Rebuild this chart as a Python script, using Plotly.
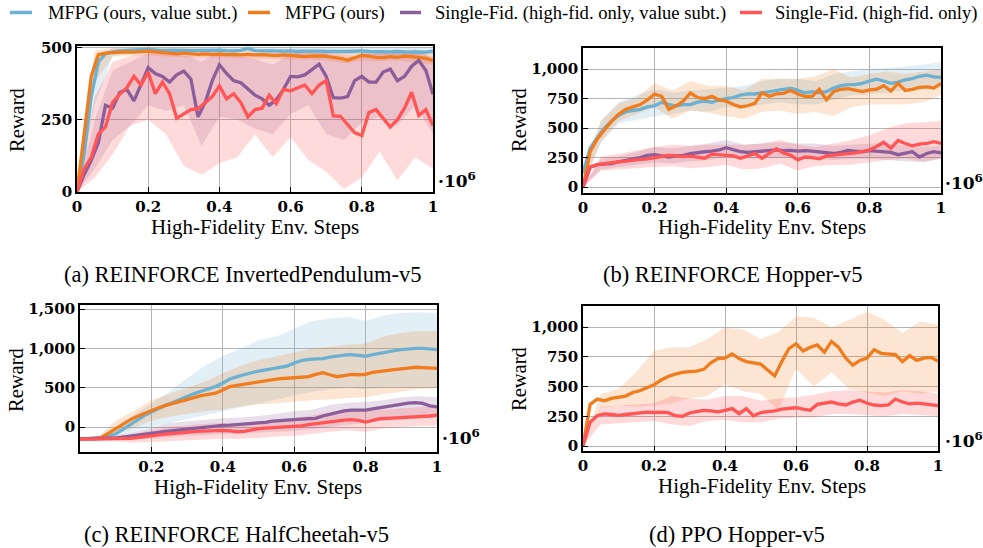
import plotly.graph_objects as go

# ---------------- data ----------------
STEPS = [0, 0.02, 0.04, 0.06, 0.08, 0.10, 0.12, 0.14, 0.16, 0.18, 0.20, 0.22, 0.24, 0.26, 0.28, 0.30,
         0.32, 0.34, 0.36, 0.38, 0.40, 0.42, 0.44, 0.46, 0.48, 0.50, 0.52, 0.54, 0.56, 0.58, 0.60,
         0.62, 0.64, 0.66, 0.68, 0.70, 0.72, 0.74, 0.76, 0.78, 0.80, 0.82, 0.84, 0.86, 0.88, 0.90,
         0.92, 0.94, 0.96, 0.98, 1.0]
BAND_STEPS = [0, 0.05, 0.10, 0.15, 0.20, 0.25, 0.30, 0.35, 0.40, 0.45, 0.50, 0.55, 0.60, 0.65,
              0.70, 0.75, 0.80, 0.85, 0.90, 0.95, 1.0]

SERIES = ["MFPG (ours, value subt.)", "MFPG (ours)",
          "Single-Fid. (high-fid. only, value subt.)", "Single-Fid. (high-fid. only)"]

# (a) REINFORCE InvertedPendulum-v5
a_mfpg_vs = [0, 130, 330, 450, 478, 485, 488, 490, 490, 492, 493, 490, 489, 490, 491, 490, 489, 490, 489, 490,
             491, 489, 488, 490, 497, 489, 488, 487, 488, 487, 488, 486, 487, 488, 487, 486, 487, 486, 486, 487,
             488, 486, 485, 486, 485, 486, 484, 484, 485, 484, 487]
a_mfpg = [0, 200, 400, 475, 480, 482, 484, 485, 484, 486, 487, 485, 482, 480, 478, 480, 477, 476, 478, 476,
          477, 475, 476, 474, 476, 474, 475, 473, 472, 474, 472, 469, 468, 470, 471, 469, 466, 462, 456, 464,
          472, 470, 466, 465, 468, 466, 470, 468, 465, 462, 455]
a_sf_vs = [0, 60, 110, 170, 300, 290, 344, 355, 315, 370, 430, 410, 400, 380, 405, 418, 390, 260, 310, 385,
           440, 410, 385, 378, 355, 335, 322, 300, 320, 355, 400, 398, 405, 425, 442, 400, 326, 325, 330, 385,
           400, 380, 380, 415, 425, 385, 400, 435, 455, 420, 338]
a_sf = [0, 80, 120, 200, 225, 310, 338, 361, 400, 370, 415, 340, 380, 340, 255, 270, 285, 288, 310, 330,
        367, 322, 340, 310, 260, 285, 290, 335, 305, 355, 350, 360, 370, 340, 370, 385, 263, 262, 235, 205,
        195, 275, 285, 255, 225, 250, 290, 345, 265, 285, 230]
a_mfpg_vs_lo = [0, 300, 470, 478, 480, 478, 478, 478, 476, 478, 480, 478, 476, 477, 476, 476, 476, 475, 474, 474, 474]
a_mfpg_vs_hi = [30, 470, 498, 500, 500, 500, 500, 500, 500, 500, 500, 500, 500, 500, 500, 500, 500, 500, 500, 500, 500]
a_mfpg_lo = [0, 380, 468, 470, 472, 468, 466, 464, 465, 463, 462, 460, 458, 457, 456, 445, 455, 452, 455, 450, 440]
a_mfpg_hi = [40, 490, 498, 500, 500, 498, 496, 496, 495, 494, 494, 492, 492, 490, 490, 485, 490, 488, 490, 488, 485]
a_sf_vs_lo = [0, 80, 180, 230, 300, 280, 300, 160, 260, 250, 220, 200, 270, 300, 200, 180, 240, 260, 230, 300, 200]
a_sf_vs_hi = [0, 250, 420, 450, 480, 480, 480, 450, 490, 470, 460, 440, 480, 490, 480, 450, 480, 490, 480, 495, 460]
a_sf_lo = [0, 50, 130, 230, 250, 200, 90, 60, 100, 120, 200, 120, 190, 110, 70, 10, 50, 140, 40, 120, 80]
a_sf_hi = [0, 330, 450, 470, 480, 480, 470, 480, 480, 475, 480, 480, 480, 480, 480, 475, 470, 480, 480, 480, 470]

# (b) REINFORCE Hopper-v5
b_mfpg_vs = [120, 330, 420, 500, 560, 610, 640, 650, 660, 680, 690, 720, 700, 690, 700, 700, 720, 730, 720, 740,
             750, 760, 780, 790, 790, 800, 810, 820, 830, 840, 820, 800, 810, 800, 810, 840, 860, 870, 870, 880,
             900, 915, 900, 880, 890, 910, 920, 940, 950, 935, 930]
b_mfpg = [0, 300, 410, 490, 560, 620, 660, 680, 700, 740, 790, 770, 660, 690, 730, 800, 760, 750, 770, 740,
          730, 700, 680, 690, 710, 800, 770, 790, 795, 820, 790, 770, 770, 830, 740, 810, 830, 835, 820, 810,
          825, 830, 860, 815, 880, 820, 830, 845, 850, 840, 880]
b_sf_vs = [0, 170, 190, 195, 200, 215, 230, 240, 250, 270, 275, 265, 255, 265, 270, 285, 295, 300, 305, 315,
           335, 320, 300, 295, 300, 305, 310, 315, 310, 312, 305, 310, 305, 300, 295, 285, 295, 312, 305, 300,
           310, 305, 300, 295, 275, 285, 300, 255, 285, 300, 290]
b_sf = [0, 170, 190, 200, 205, 215, 220, 230, 235, 240, 250, 260, 270, 265, 258, 262, 255, 245, 280, 275,
        270, 265, 245, 265, 285, 245, 285, 325, 290, 270, 230, 255, 250, 240, 265, 270, 275, 285, 290, 300,
        315, 345, 380, 330, 395, 370, 350, 365, 370, 385, 370]
b_mfpg_vs_lo = [50, 380, 540, 570, 600, 620, 650, 640, 680, 680, 700, 720, 700, 700, 740, 780, 790, 800, 820, 850, 840]
b_mfpg_vs_hi = [200, 560, 720, 780, 830, 800, 820, 830, 840, 860, 900, 920, 920, 900, 960, 980, 1000, 1010, 1020, 1040, 1060]
b_mfpg_lo = [0, 380, 560, 620, 680, 580, 650, 630, 600, 580, 640, 650, 620, 640, 600, 680, 700, 700, 700, 720, 780]
b_mfpg_hi = [50, 560, 710, 760, 880, 820, 900, 860, 860, 820, 920, 920, 920, 940, 1000, 930, 960, 980, 960, 980, 1000]
b_sf_vs_lo = [0, 150, 170, 190, 210, 200, 220, 230, 260, 240, 240, 250, 250, 240, 230, 240, 240, 230, 220, 210, 240]
b_sf_vs_hi = [0, 240, 260, 300, 340, 330, 350, 370, 400, 360, 370, 380, 370, 370, 350, 360, 370, 370, 350, 340, 350]
b_sf_lo = [0, 140, 150, 160, 170, 180, 160, 170, 190, 150, 160, 200, 140, 180, 190, 190, 210, 230, 240, 220, 240]
b_sf_hi = [0, 260, 280, 310, 340, 360, 350, 360, 360, 360, 370, 400, 360, 340, 370, 400, 440, 500, 540, 550, 560]

# (c) REINFORCE HalfCheetah-v5
c_mfpg_vs = [-150, -150, -145, -140, -120, -85, -30, 30, 90, 145, 190, 235, 275, 310, 350, 385, 425, 455, 485, 515,
             560, 610, 640, 670, 690, 710, 725, 740, 755, 775, 815, 845, 860, 860, 870, 890, 905, 915, 920, 910,
             900, 920, 940, 955, 970, 985, 995, 1000, 1000, 990, 985]
c_mfpg = [-150, -150, -145, -135, -80, -20, 40, 90, 135, 175, 214, 245, 275, 300, 330, 355, 380, 400, 415, 430,
          470, 515, 530, 545, 560, 576, 590, 605, 615, 620, 628, 635, 640, 670, 690, 665, 640, 655, 670, 665,
          670, 695, 710, 720, 730, 740, 750, 760, 755, 750, 745]
c_sf_vs = [-150, -150, -150, -148, -145, -140, -130, -120, -110, -95, -85, -70, -55, -45, -30, -20, -10, -5, 5, 15,
           20, 25, 30, 35, 40, 45, 60, 75, 85, 90, 95, 100, 105, 110, 140, 165, 185, 205, 215, 210,
           215, 230, 245, 260, 280, 295, 305, 310, 300, 270, 255]
c_sf = [-150, -155, -155, -150, -150, -150, -148, -145, -135, -120, -107, -100, -90, -80, -70, -64, -58, -52, -48, -45,
        -43, -48, -60, -55, -35, -21, -15, -10, -5, 0, 5, 15, 30, 43, 55, 62, 75, 88, 94, 85,
        62, 85, 105, 110, 115, 118, 120, 122, 130, 140, 150]
c_mfpg_vs_lo = [-170, -160, -130, -50, 0, 50, 100, 150, 200, 250, 300, 350, 400, 450, 480, 500, 480, 500, 500, 500, 500]
c_mfpg_vs_hi = [-130, -120, -20, 150, 300, 450, 620, 780, 900, 1000, 1100, 1150, 1250, 1350, 1380, 1400, 1350, 1420, 1450, 1460, 1450]
c_mfpg_lo = [-170, -160, -100, -10, 80, 130, 170, 200, 220, 260, 290, 300, 320, 340, 350, 370, 380, 420, 450, 480, 500]
c_mfpg_hi = [-130, -120, 80, 200, 340, 420, 500, 580, 680, 780, 850, 900, 950, 1000, 1020, 1050, 1060, 1150, 1200, 1220, 1220]
c_sf_vs_lo = [-170, -170, -165, -160, -150, -130, -110, -100, -90, -80, -70, -60, -50, -30, 0, 30, 50, 80, 100, 110, 120]
c_sf_vs_hi = [-130, -130, -110, -60, -10, 50, 70, 90, 110, 120, 140, 170, 200, 220, 280, 310, 320, 340, 380, 390, 380]
c_sf_lo = [-180, -180, -180, -200, -190, -180, -170, -160, -150, -150, -140, -120, -110, -90, -60, -40, -60, -20, 0, 10, 20]
c_sf_hi = [-130, -130, -120, -90, -40, 0, 20, 40, 50, 40, 70, 90, 110, 150, 190, 220, 200, 220, 240, 250, 260]

# (d) PPO Hopper-v5
d_mfpg = [0, 350, 395, 380, 400, 410, 420, 450, 465, 490, 515, 555, 585, 605, 620, 625, 630, 645, 700, 735,
          740, 775, 735, 710, 700, 690, 640, 590, 710, 820, 860, 800, 830, 850, 790, 880, 830, 740, 680, 720,
          740, 810, 780, 775, 770, 710, 760, 720, 740, 745, 715]
d_sf = [0, 200, 255, 270, 265, 258, 265, 272, 275, 285, 282, 285, 280, 255, 250, 278, 290, 300, 295, 287,
        300, 315, 272, 315, 255, 280, 290, 295, 310, 315, 322, 310, 300, 350, 360, 370, 355, 345, 370, 385,
        360, 345, 340, 345, 395, 370, 355, 360, 355, 345, 340]
d_mfpg_lo = [0, 320, 340, 330, 340, 360, 400, 420, 520, 460, 440, 300, 650, 500, 620, 480, 450, 420, 460, 440, 460]
d_mfpg_hi = [0, 440, 480, 620, 800, 830, 830, 900, 1000, 980, 900, 960, 1090, 1080, 1000, 1060, 1130, 1060, 950, 1050, 1020]
d_sf_lo = [0, 180, 190, 200, 210, 180, 170, 210, 220, 200, 200, 230, 240, 240, 270, 270, 260, 250, 270, 260, 250]
d_sf_hi = [0, 330, 340, 350, 360, 420, 400, 390, 420, 420, 380, 400, 410, 430, 460, 470, 460, 450, 470, 460, 440]

CAPTIONS = ["(a) REINFORCE InvertedPendulum-v5", "(b) REINFORCE Hopper-v5",
            "(c) REINFORCE HalfCheetah-v5", "(d) PPO Hopper-v5"]
X_TICKS = [0, 0.2, 0.4, 0.6, 0.8, 1]
X_TICK_TEXT = ["0", "0.2", "0.4", "0.6", "0.8", "1"]
C_X_TICKS = [0.2, 0.4, 0.6, 0.8, 1]
C_X_TICK_TEXT = ["0.2", "0.4", "0.6", "0.8", "1"]
A_Y_TICKS = [0, 250, 500]
B_Y_TICKS = [0, 250, 500, 750, 1000]
C_Y_TICKS = [0, 500, 1000, 1500]
D_Y_TICKS = [0, 250, 500, 750, 1000]

# ---------------- style ----------------
W, H = 983, 548
COLORS = ["#6cb0d2", "#f07c1e", "#8b5e9b", "#ff5555"]
FILLS = ["rgba(108,176,210,0.2)", "rgba(240,124,30,0.2)", "rgba(139,94,155,0.2)", "rgba(255,85,85,0.22)"]
SERIF = "Liberation Serif"
BOLD = "DejaVu Serif"


def px_x(p):
    return p / W


def px_y(p):
    return 1 - p / H


panels = [
    dict(dom_x=(77, 433), dom_y=(46, 192), yr=[0, 505], yt=A_Y_TICKS, xt=X_TICKS, xtt=X_TICK_TEXT,
         series=[(0, a_mfpg_vs, a_mfpg_vs_lo, a_mfpg_vs_hi), (1, a_mfpg, a_mfpg_lo, a_mfpg_hi),
                 (2, a_sf_vs, a_sf_vs_lo, a_sf_vs_hi), (3, a_sf, a_sf_lo, a_sf_hi)],
         cap=(242, 274), ytitle=(17, 120), xtitle=(255, 227), e6=(436, 180)),
    dict(dom_x=(583, 941), dom_y=(48, 193), yr=[-50, 1180], yt=B_Y_TICKS, xt=X_TICKS, xtt=X_TICK_TEXT,
         series=[(0, b_mfpg_vs, b_mfpg_vs_lo, b_mfpg_vs_hi), (1, b_mfpg, b_mfpg_lo, b_mfpg_hi),
                 (2, b_sf_vs, b_sf_vs_lo, b_sf_vs_hi), (3, b_sf, b_sf_lo, b_sf_hi)],
         cap=(733, 274), ytitle=(519, 120), xtitle=(762, 227), e6=(943, 182)),
    dict(dom_x=(80, 437), dom_y=(305, 452), yr=[-318, 1552], yt=C_Y_TICKS, xt=C_X_TICKS, xtt=C_X_TICK_TEXT,
         series=[(0, c_mfpg_vs, c_mfpg_vs_lo, c_mfpg_vs_hi), (1, c_mfpg, c_mfpg_lo, c_mfpg_hi),
                 (2, c_sf_vs, c_sf_vs_lo, c_sf_vs_hi), (3, c_sf, c_sf_lo, c_sf_hi)],
         cap=(236, 534), ytitle=(16, 380), xtitle=(258, 487), e6=(440, 437)),
    dict(dom_x=(583, 938), dom_y=(306, 451), yr=[-42, 1178], yt=D_Y_TICKS, xt=X_TICKS, xtt=X_TICK_TEXT,
         series=[(1, d_mfpg, d_mfpg_lo, d_mfpg_hi), (3, d_sf, d_sf_lo, d_sf_hi)],
         cap=(737, 534), ytitle=(519, 379), xtitle=(762, 486), e6=(943, 440)),
]

# legend placement (pixels): line start, line end, text start
LEGEND_POS = [(10, 32, 46), (248, 270, 283), (400, 421, 433), (740, 762, 773)]
LEGEND_Y = 12.5

fig = go.Figure()
annotations = []
shapes = []
layout_axes = {}

for i, p in enumerate(panels):
    n = "" if i == 0 else str(i + 1)
    xa, ya = "x" + n, "y" + n
    for (ci, mean, lo, hi) in p["series"]:
        fig.add_trace(go.Scatter(
            x=BAND_STEPS + BAND_STEPS[::-1], y=hi + lo[::-1], fill="toself", fillcolor=FILLS[ci],
            line=dict(width=0), mode="lines", hoverinfo="skip", showlegend=False, xaxis=xa, yaxis=ya))
    for (ci, mean, lo, hi) in p["series"]:
        fig.add_trace(go.Scatter(
            x=STEPS, y=mean, mode="lines", line=dict(color=COLORS[ci], width=3.3),
            name=SERIES[ci], showlegend=False, xaxis=xa, yaxis=ya))

    common = dict(showline=True, linecolor="black", linewidth=1.6, mirror=True, automargin=False,
                  ticks="inside", ticklen=5, tickcolor="black", tickwidth=1.2,
                  showgrid=True, gridcolor="#b4b4b4", gridwidth=1, zeroline=False,
                  tickfont=dict(family=BOLD, size=15, color="black", weight="bold"))
    layout_axes["xaxis" + n] = dict(common, domain=[px_x(p["dom_x"][0]), px_x(p["dom_x"][1])],
                                    range=[0, 1], anchor=ya, tickvals=p["xt"], ticktext=p["xtt"])
    yt = p["yt"]
    layout_axes["yaxis" + n] = dict(common, domain=[px_y(p["dom_y"][1]), px_y(p["dom_y"][0])],
                                    range=p["yr"], anchor=xa, tickvals=yt,
                                    ticktext=[f"{v:,}" for v in yt])
    annotations.append(dict(text=CAPTIONS[i], x=px_x(p["cap"][0]), y=px_y(p["cap"][1]),
                            xref="paper", yref="paper", showarrow=False, xanchor="center", yanchor="middle",
                            font=dict(family=SERIF, size=22.5, color="black")))
    annotations.append(dict(text="Reward", x=px_x(p["ytitle"][0]), y=px_y(p["ytitle"][1]), textangle=-90,
                            xref="paper", yref="paper", showarrow=False, xanchor="center", yanchor="middle",
                            font=dict(family=SERIF, size=20.5, color="black")))
    annotations.append(dict(text="High-Fidelity Env. Steps", x=px_x(p["xtitle"][0]), y=px_y(p["xtitle"][1]),
                            xref="paper", yref="paper", showarrow=False, xanchor="center", yanchor="middle",
                            font=dict(family=SERIF, size=21, color="black")))
    annotations.append(dict(text="·10<sup>6</sup>", x=px_x(p["e6"][0]), y=px_y(p["e6"][1]),
                            xref="paper", yref="paper", showarrow=False, xanchor="left", yanchor="middle",
                            font=dict(family=BOLD, size=17, color="black", weight="bold")))

# legend drawn as line swatches + labels
for ci, (x0, x1, xt) in enumerate(LEGEND_POS):
    shapes.append(dict(type="line", xref="paper", yref="paper", x0=px_x(x0), x1=px_x(x1),
                       y0=px_y(LEGEND_Y), y1=px_y(LEGEND_Y), line=dict(color=COLORS[ci], width=3.5)))
    annotations.append(dict(text=SERIES[ci], x=px_x(xt), y=px_y(LEGEND_Y), xref="paper", yref="paper",
                            showarrow=False, xanchor="left", yanchor="middle",
                            font=dict(family=SERIF, size=18.6, color="black")))

fig.update_layout(
    width=W, height=H, margin=dict(l=0, r=0, t=0, b=0, autoexpand=False),
    paper_bgcolor="white", plot_bgcolor="white",
    showlegend=False,
    annotations=annotations,
    shapes=shapes,
    **layout_axes,
)

fig.write_html("out.html", config={"displayModeBar": False},
               post_script="document.body.style.margin='0';document.body.style.overflow='hidden';")
